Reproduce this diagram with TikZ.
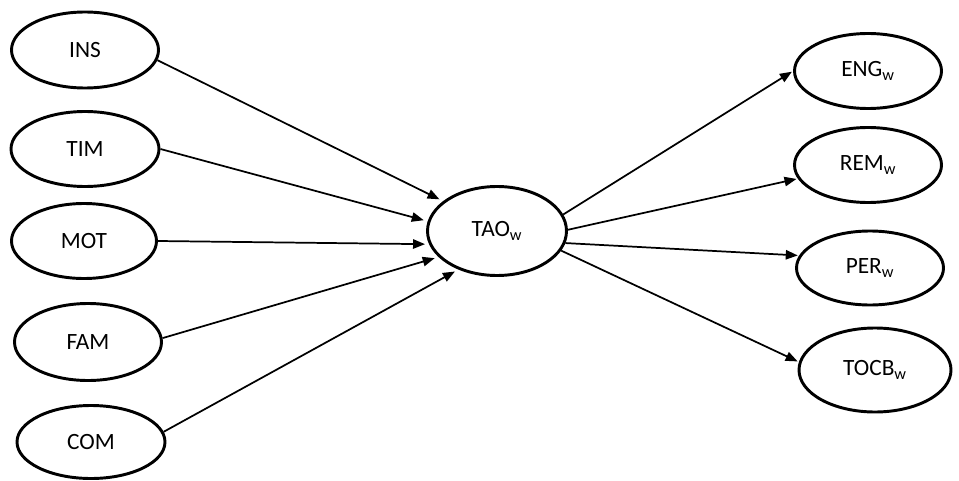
\documentclass[tikz,border=0pt]{standalone}
\usepackage{fontspec}
\setmainfont{Carlito}
\usetikzlibrary{shapes.geometric,arrows.meta}
\tikzset{
  ell/.style={ellipse, draw=black, line width=2.2pt, inner sep=0pt, font=\fontsize{17.5}{20}\selectfont},
  conn/.style={line width=1.3pt, -{Triangle[length=9pt,width=7pt]}, shorten >=3pt},
}
\begin{document}
\begin{tikzpicture}[x=0.75pt,y=-0.75pt]
\useasboundingbox (0,0) rectangle (959,481);
\node[ell, minimum width=147*0.75pt, minimum height=76*0.75pt] (INS) at (85,50) {INS};
\node[ell, minimum width=148*0.75pt, minimum height=75*0.75pt] (TIM) at (85,149) {TIM};
\node[ell, minimum width=145*0.75pt, minimum height=75*0.75pt] (MOT) at (84,241) {MOT};
\node[ell, minimum width=147*0.75pt, minimum height=77*0.75pt] (FAM) at (88,342) {FAM};
\node[ell, minimum width=148*0.75pt, minimum height=73*0.75pt] (COM) at (91,442) {COM};
\node[ell, minimum width=139*0.75pt, minimum height=89*0.75pt] (TAO) at (497,231) {TAO\textsubscript{w}};
\node[ell, minimum width=147*0.75pt, minimum height=75*0.75pt] (ENG) at (868,71) {ENG\textsubscript{w}};
\node[ell, minimum width=147*0.75pt, minimum height=75*0.75pt] (REM) at (868,165) {REM\textsubscript{w}};
\node[ell, minimum width=147*0.75pt, minimum height=74*0.75pt] (PER) at (870,268) {PER\textsubscript{w}};
\node[ell, minimum width=152*0.75pt, minimum height=84*0.75pt] (TOCB) at (875,370) {TOCB\textsubscript{w}};
\draw[conn] (INS.-8) -- (TAO.151.5);
\draw[conn] (TIM.0) -- (TAO.172.8);
\draw[conn] (MOT.0) -- (TAO.191);
\draw[conn] (FAM.3) -- (TAO.204.6);
\draw[conn] (COM.8) -- (TAO.225);
\draw[conn, shorten >=1pt] (TAO.14) -- (ENG.180);
\draw[conn, shorten >=1pt] (TAO.1.5) -- (REM.191);
\draw[conn, shorten >=1pt] (TAO.-10.5) -- (PER.170);
\draw[conn, shorten >=1pt] (TAO.-17) -- (TOCB.174);
\end{tikzpicture}
\end{document}
